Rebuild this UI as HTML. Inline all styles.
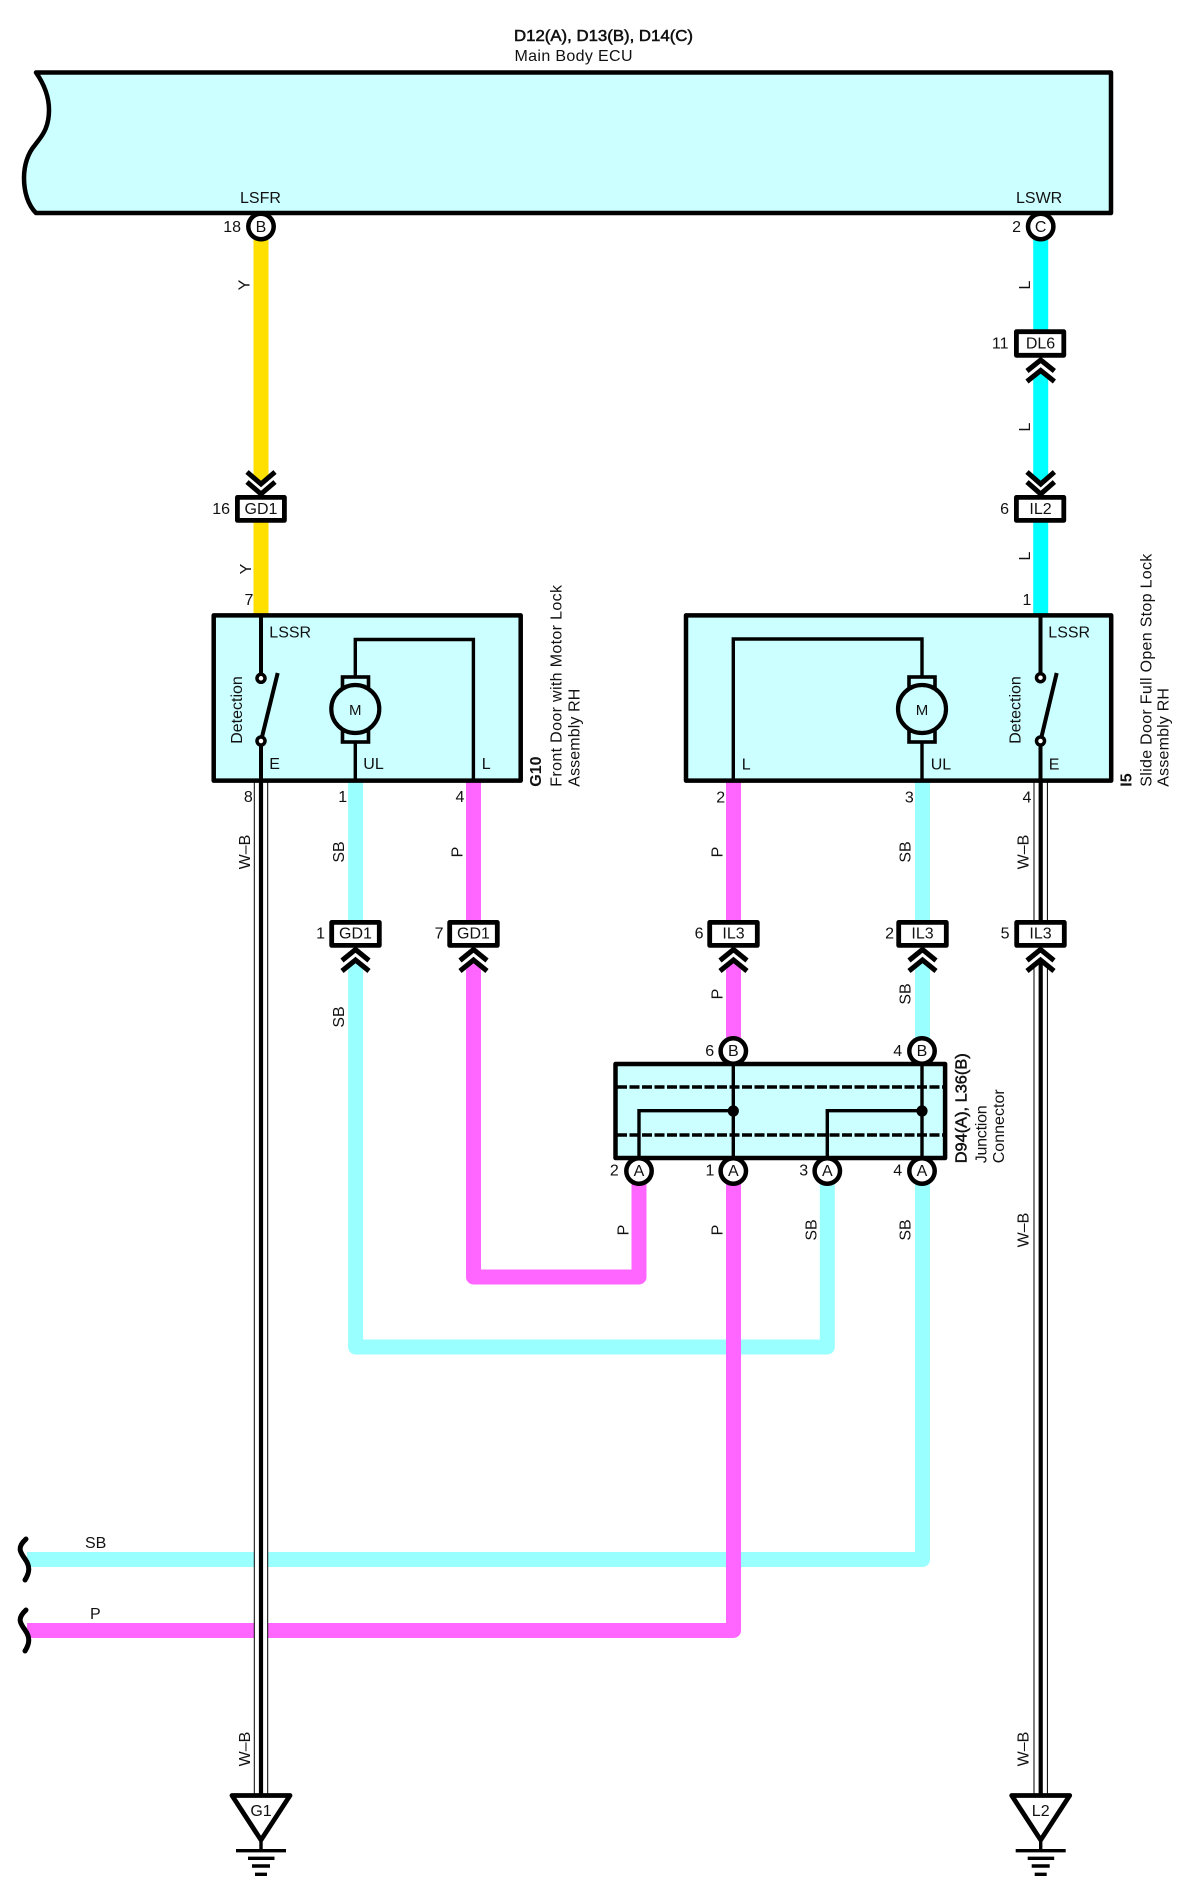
<!DOCTYPE html>
<html><head><meta charset="utf-8"><style>
html,body{margin:0;padding:0;background:#fff}
svg{display:block}
text{font-family:"Liberation Sans",sans-serif;font-size:16px;fill:#111}
.m{text-anchor:middle}.e{text-anchor:end}.b{font-weight:bold}
.w{fill:none;stroke-width:15;stroke-linejoin:round}
.t{fill:none;stroke:#000;stroke-width:3.4}
.ch{fill:none;stroke:#000;stroke-width:5}
.bk{fill:#fff;stroke:none}
.c{fill:#fff;stroke:#000;stroke-width:4.5}
.box{fill:#ccffff;stroke:#000;stroke-width:4.5;stroke-linejoin:round}
.con{fill:#fff;stroke:#000;stroke-width:4.8;stroke-linejoin:round}
</style></head><body>
<svg width="1180" height="1888" viewBox="0 0 1180 1888" xmlns="http://www.w3.org/2000/svg">
<rect width="1180" height="1888" fill="#fff"/>

<!-- title -->
<text x="514" y="41" textLength="179" lengthAdjust="spacingAndGlyphs" stroke="#111" stroke-width=".55">D12(A), D13(B), D14(C)</text>
<text x="514.5" y="61" textLength="118" lengthAdjust="spacing">Main Body ECU</text>

<!-- wires -->
<path class="w" stroke="#ffe000" d="M261 226V500M261 500V615"/>
<path class="w" stroke="#00ffff" d="M1040.7 226V615"/>
<path class="w" stroke="#99ffff" d="M355.6 780V1347H827.3V1171"/>
<path class="w" stroke="#ff66ff" d="M473.5 780V1277H639V1171"/>
<path class="w" stroke="#99ffff" d="M922.5 780V1051M922.5 1171V1559.5H27"/>
<path class="w" stroke="#ff66ff" d="M733.5 780V1051M733.5 1171V1630.5H27"/>

<!-- W-B wires -->
<g>
<rect x="254" y="780" width="14" height="1015" fill="#fff"/>
<rect x="1033.7" y="780" width="14" height="1015" fill="#fff"/>
<path d="M254.3 780V1795M267.7 780V1795M1034 780V1795M1047.4 780V1795" stroke="#000" stroke-width="1" fill="none"/>
<path d="M261 780V1795M1040.7 780V1795" stroke="#000" stroke-width="4.2" fill="none"/>
</g>

<!-- ECU -->
<path class="box" d="M36 72.5C44 84 49 96 49 110C49 130 40 138 35 145C28 153 24 165 24 178C24 192 28 205 36 213H1111V72.5Z"/>
<text x="240" y="203">LSFR</text>
<text x="1016" y="203">LSWR</text>
<text x="241" y="232" class="e">18</text>
<circle class="c" cx="261" cy="226.5" r="12.7"/><text x="261" y="232" class="m">B</text>
<text x="1021" y="232" class="e">2</text>
<circle class="c" cx="1040.7" cy="226.5" r="12.7"/><text x="1040.7" y="232" class="m">C</text>

<!-- Left device -->
<rect class="box" x="213.7" y="615.4" width="307" height="165.2"/>
<path class="t" d="M261 615V678M261 741V780" style="stroke-width:4"/>
<path d="M261 741L277.7 673" stroke="#000" stroke-width="4" fill="none"/>
<circle cx="261" cy="678.3" r="4" fill="#fff" stroke="#000" stroke-width="3.5"/>
<circle cx="261" cy="741" r="4" fill="#fff" stroke="#000" stroke-width="3.5"/>
<path class="t" d="M355.3 680V639.5H473.4V780M355.3 740V780"/>
<rect x="342.5" y="677" width="26" height="11" fill="#ccffff" stroke="#000" stroke-width="3.6"/>
<rect x="342.5" y="731" width="26" height="11" fill="#ccffff" stroke="#000" stroke-width="3.6"/>
<circle cx="355.3" cy="709" r="24" fill="#ccffff" stroke="#000" stroke-width="4.2"/>
<text x="355.3" y="715" class="m" style="font-size:15px">M</text>
<text x="269.3" y="637.5">LSSR</text>
<text x="269.3" y="769">E</text>
<text x="363.3" y="769">UL</text>
<text x="481.7" y="769">L</text>
<text transform="translate(242 710) rotate(-90)" class="m">Detection</text>
<text x="249" y="605" class="m">7</text>
<text x="248.3" y="802" class="m">8</text>
<text x="342.7" y="802" class="m">1</text>
<text x="460" y="802" class="m">4</text>
<text transform="translate(541 786.7) rotate(-90)" class="b">G10</text>
<text transform="translate(561.7 786.7) rotate(-90)" textLength="201.7" lengthAdjust="spacing">Front Door with Motor Lock</text>
<text transform="translate(579.3 786.7) rotate(-90)" textLength="98" lengthAdjust="spacing">Assembly RH</text>

<!-- Right device -->
<rect class="box" x="686" y="615.4" width="425.2" height="165.2"/>
<path class="t" d="M1040.5 615V678M1040.5 741V780" style="stroke-width:4"/>
<path d="M1040.5 741L1056.7 673" stroke="#000" stroke-width="4" fill="none"/>
<circle cx="1040.5" cy="677.7" r="4" fill="#fff" stroke="#000" stroke-width="3.5"/>
<circle cx="1040.5" cy="741" r="4" fill="#fff" stroke="#000" stroke-width="3.5"/>
<path class="t" d="M922 680V639H733.3V780M922 740V780"/>
<rect x="909" y="677" width="26" height="11" fill="#ccffff" stroke="#000" stroke-width="3.6"/>
<rect x="909" y="731" width="26" height="11" fill="#ccffff" stroke="#000" stroke-width="3.6"/>
<circle cx="922" cy="709" r="24" fill="#ccffff" stroke="#000" stroke-width="4.2"/>
<text x="922" y="715" class="m" style="font-size:15px">M</text>
<text x="1048.3" y="637.5">LSSR</text>
<text x="1048.7" y="769.5">E</text>
<text x="930.7" y="769.5">UL</text>
<text x="741.7" y="769.5">L</text>
<text transform="translate(1020.5 710) rotate(-90)" class="m">Detection</text>
<text x="1027" y="605" class="m">1</text>
<text x="720.7" y="802.5" class="m">2</text>
<text x="909.3" y="802.5" class="m">3</text>
<text x="1027" y="802.5" class="m">4</text>
<text transform="translate(1131.7 786.7) rotate(-90)" class="b">I5</text>
<text transform="translate(1151.7 786.7) rotate(-90)" textLength="233" lengthAdjust="spacing">Slide Door Full Open Stop Lock</text>
<text transform="translate(1168.3 786.7) rotate(-90)" textLength="98.7" lengthAdjust="spacing">Assembly RH</text>

<!-- Inline connectors with chevrons -->
<path class="bk" d="M247 472L261 484L275 472V497H247Z"/>
<path class="ch" d="M247 472L261 484L275 472M247 482L261 494L275 482"/>
<rect class="con" x="237.4" y="497.4" width="47" height="23"/>
<text x="261" y="514" class="m">GD1</text><text x="230" y="514" class="e">16</text>

<path class="bk" d="M1027 357H1054.4V382L1040.7 370L1027 382Z"/>
<rect class="con" x="1016.4" y="331.7" width="47.4" height="23.6"/>
<text x="1040.5" y="348.5" class="m">DL6</text><text x="1008.5" y="348.5" class="e">11</text>
<path class="ch" d="M1027 371L1040.7 360L1054.4 371M1027 381.5L1040.7 370.5L1054.4 381.5"/>

<path class="bk" d="M1027 472L1040.7 484L1054.4 472V497H1027Z"/>
<path class="ch" d="M1027 472L1040.7 484L1054.4 472M1027 482L1040.7 494L1054.4 482"/>
<rect class="con" x="1016.4" y="497.4" width="47.4" height="23"/>
<text x="1040.5" y="514" class="m">IL2</text><text x="1009" y="514" class="e">6</text>

<g>
<path class="bk" d="M342 947H369V971L355.5 960L342 971Z"/>
<path class="bk" d="M460 947H487V971L473.5 960L460 971Z"/>
<path class="bk" d="M720 947H747V971L733.5 960L720 971Z"/>
<path class="bk" d="M909 947H936V971L922.5 960L909 971Z"/>
<path class="bk" d="M1027 947H1054V971L1040.5 960L1027 971Z"/>
<rect class="con" x="331.7" y="922.4" width="47.6" height="23"/>
<rect class="con" x="449.7" y="922.4" width="47.6" height="23"/>
<rect class="con" x="709.7" y="922.4" width="47.6" height="23"/>
<rect class="con" x="898.7" y="922.4" width="47.6" height="23"/>
<rect class="con" x="1016.7" y="922.4" width="47.6" height="23"/>
<path class="ch" d="M342 960.5L355.5 949.5L369 960.5M342 971L355.5 960L369 971"/>
<path class="ch" d="M460 960.5L473.5 949.5L487 960.5M460 971L473.5 960L487 971"/>
<path class="ch" d="M720 960.5L733.5 949.5L747 960.5M720 971L733.5 960L747 971"/>
<path class="ch" d="M909 960.5L922.5 949.5L936 960.5M909 971L922.5 960L936 971"/>
<path class="ch" d="M1027 960.5L1040.5 949.5L1054 960.5M1027 971L1040.5 960L1054 971"/>
</g>
<text x="355.5" y="938.5" class="m">GD1</text><text x="325" y="938.5" class="e">1</text>
<text x="473.5" y="938.5" class="m">GD1</text><text x="443.5" y="938.5" class="e">7</text>
<text x="733.5" y="938.5" class="m">IL3</text><text x="703.5" y="938.5" class="e">6</text>
<text x="922.5" y="938.5" class="m">IL3</text><text x="894" y="938.5" class="e">2</text>
<text x="1040.5" y="938.5" class="m">IL3</text><text x="1009.5" y="938.5" class="e">5</text>

<!-- Junction connector -->
<circle class="c" cx="733.3" cy="1051" r="12.7"/><circle class="c" cx="922" cy="1051" r="12.7"/>
<rect class="box" x="615.5" y="1064" width="329.6" height="94"/>
<path d="M617 1087H943M617 1135H943" stroke="#000" stroke-width="3.6" stroke-dasharray="10 2.5" fill="none"/>
<path class="t" d="M733.3 1064V1158M922 1064V1158M639 1158V1110.7H733.3M827.3 1158V1110.7H922"/>
<circle cx="733.3" cy="1111" r="5.6"/><circle cx="922" cy="1111" r="5.6"/>
<circle class="c" cx="639" cy="1171" r="12.7"/><circle class="c" cx="733.3" cy="1171" r="12.7"/>
<circle class="c" cx="827.3" cy="1171" r="12.7"/><circle class="c" cx="922" cy="1171" r="12.7"/>
<text x="733.3" y="1056" class="m">B</text><text x="922" y="1056" class="m">B</text>
<text x="639" y="1176" class="m">A</text><text x="733.3" y="1176" class="m">A</text><text x="827.3" y="1176" class="m">A</text><text x="922" y="1176" class="m">A</text>
<text x="709.7" y="1056" class="m">6</text><text x="897.7" y="1056" class="m">4</text>
<text x="614.3" y="1175.7" class="m">2</text><text x="710" y="1175.7" class="m">1</text><text x="803.7" y="1175.7" class="m">3</text><text x="897.7" y="1175.7" class="m">4</text>
<text transform="translate(966.7 1163.3) rotate(-90)" textLength="110" lengthAdjust="spacingAndGlyphs" stroke="#111" stroke-width=".5">D94(A), L36(B)</text>
<text transform="translate(986.7 1163.3) rotate(-90)" textLength="58" lengthAdjust="spacing">Junction</text>
<text transform="translate(1004 1163.3) rotate(-90)" textLength="74" lengthAdjust="spacing">Connector</text>

<!-- Wire labels -->
<text class="m" transform="translate(249.5 285) rotate(-90)">Y</text>
<text class="m" transform="translate(251 569) rotate(-90)">Y</text>
<text class="m" transform="translate(1030 285) rotate(-90)">L</text>
<text class="m" transform="translate(1030 427) rotate(-90)">L</text>
<text class="m" transform="translate(1030 556) rotate(-90)">L</text>
<text class="m" transform="translate(250 852) rotate(-90)">W–B</text>
<text class="m" transform="translate(344 852) rotate(-90)">SB</text>
<text class="m" transform="translate(344 1017) rotate(-90)">SB</text>
<text class="m" transform="translate(462.5 852) rotate(-90)">P</text>
<text class="m" transform="translate(722.3 852) rotate(-90)">P</text>
<text class="m" transform="translate(910.7 852) rotate(-90)">SB</text>
<text class="m" transform="translate(1028.5 852) rotate(-90)">W–B</text>
<text class="m" transform="translate(722.3 994) rotate(-90)">P</text>
<text class="m" transform="translate(910.7 994) rotate(-90)">SB</text>
<text class="m" transform="translate(628.3 1230) rotate(-90)">P</text>
<text class="m" transform="translate(722.3 1230) rotate(-90)">P</text>
<text class="m" transform="translate(816.7 1230) rotate(-90)">SB</text>
<text class="m" transform="translate(910.7 1230) rotate(-90)">SB</text>
<text class="m" transform="translate(1028.5 1230) rotate(-90)">W–B</text>
<text class="m" transform="translate(250 1749) rotate(-90)">W–B</text>
<text class="m" transform="translate(1028.5 1749) rotate(-90)">W–B</text>
<text x="85" y="1548">SB</text>
<text x="90" y="1619">P</text>

<!-- Wave breaks -->
<path d="M26 1539C16 1548 21 1553 25 1559C30 1566 30 1572 25 1580" fill="none" stroke="#000" stroke-width="5" stroke-linecap="round"/>
<path d="M26 1610C16 1619 21 1624 25 1630C30 1637 30 1643 25 1651" fill="none" stroke="#000" stroke-width="5" stroke-linecap="round"/>

<!-- Grounds -->
<path d="M232 1795.5H290L261 1840Z" fill="#fff" stroke="#000" stroke-width="4.8" stroke-linejoin="round"/>
<path d="M1011.7 1795.5H1069.7L1040.7 1840Z" fill="#fff" stroke="#000" stroke-width="4.8" stroke-linejoin="round"/>
<path d="M261 1838V1851M236 1850.7H286M248 1858.3H274.5M252 1866H270M255 1874.3H267" fill="none" stroke="#000" stroke-width="3.4"/>
<path d="M1040.7 1838V1851M1015.7 1850.7H1065.7M1027.7 1858.3H1054.2M1031.7 1866H1049.7M1034.7 1874.3H1046.7" fill="none" stroke="#000" stroke-width="3.4"/>
<text x="261" y="1816" class="m">G1</text>
<text x="1040.7" y="1816" class="m">L2</text>
</svg>
</body></html>
